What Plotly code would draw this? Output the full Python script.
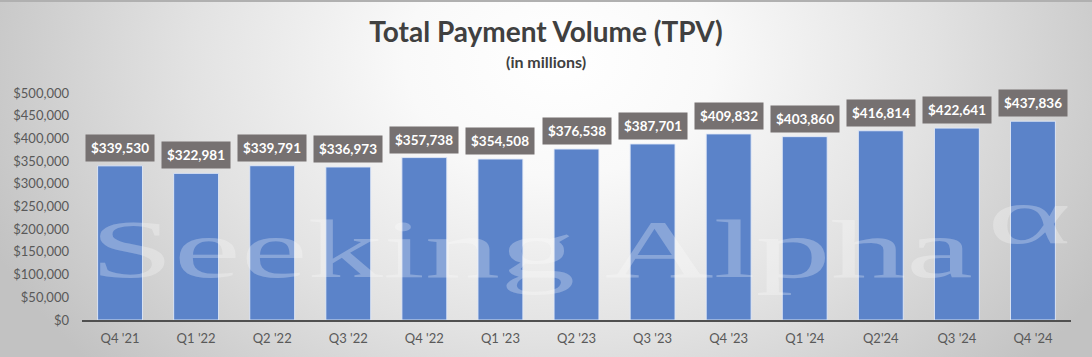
import base64
import plotly.graph_objects as go

# ---- data ----
quarters = ["Q4 '21", "Q1 '22", "Q2 '22", "Q3 '22", "Q4 '22", "Q1 '23", "Q2 '23",
            "Q3 '23", "Q4 '23", "Q1 '24", "Q2'24", "Q3 '24", "Q4 '24"]
tpv = [339530, 322981, 339791, 336973, 357738, 354508, 376538,
       387701, 409832, 403860, 416814, 422641, 437836]
y_ticks = list(range(0, 500001, 50000))
y_tick_labels = [f"${v:,}" for v in y_ticks]

title_text = "Total Payment Volume (TPV)"
subtitle_text = "(in millions)"
watermark_text = "Seeking Alpha"
watermark_symbol = "α"

# ---- layout geometry ----
W, H = 1092, 357
L, R, T, B = 82, 21, 93, 37
PW, PH = W - L - R, H - T - B
FONT = "Lato"

bg_svg = f'''<svg xmlns="http://www.w3.org/2000/svg" width="{W}" height="{H}" viewBox="0 0 {W} {H}" preserveAspectRatio="none">
<defs><radialGradient id="g" gradientUnits="userSpaceOnUse" cx="560" cy="60" r="620"
 gradientTransform="translate(560 60) scale(1 0.75) translate(-560 -60)">
<stop offset="0" stop-color="#ffffff"/><stop offset="0.25" stop-color="#f9f9f9"/>
<stop offset="0.6" stop-color="#e2e2e2"/><stop offset="1" stop-color="#c2c2c2"/></radialGradient></defs>
<rect x="0" y="0" width="{W}" height="{H}" fill="url(#g)"/>
<rect x="0" y="0" width="{W}" height="2" fill="#b0b0b0"/>
</svg>'''

wm_svg = f'''<svg xmlns="http://www.w3.org/2000/svg" width="{W}" height="{H}" viewBox="0 0 {W} {H}" preserveAspectRatio="none">
<text x="90" y="277" font-family="Liberation Serif" font-size="83" fill="#ffffff" fill-opacity="0.28"
 textLength="883" lengthAdjust="spacingAndGlyphs">{watermark_text}</text>
<text x="987" y="243" font-family="Liberation Serif" font-size="80" fill="#ffffff" fill-opacity="0.28"
 textLength="84" lengthAdjust="spacingAndGlyphs">{watermark_symbol}</text>
</svg>'''


def uri(svg):
    return "data:image/svg+xml;base64," + base64.b64encode(svg.encode("utf-8")).decode()


full = dict(xref="paper", yref="paper", x=-L / PW, y=1 + T / PH, sizex=W / PW, sizey=H / PH,
            xanchor="left", yanchor="top", sizing="stretch")

fig = go.Figure()
fig.add_trace(go.Bar(
    x=quarters, y=tpv,
    marker=dict(color="#5b83c9", line=dict(color="rgba(225,233,247,0.9)", width=1)),
    hoverinfo="skip",
))

for q, v in zip(quarters, tpv):
    fig.add_annotation(
        x=q, y=v, text=f"<b>${v:,}</b>", showarrow=False, yanchor="bottom", yshift=4,
        bgcolor="#767171", borderpad=5,
        font=dict(family=FONT, size=13.5, color="#ffffff"),
    )

fig.add_annotation(
    xref="paper", yref="paper", x=(W / 2 - L) / PW, y=1 + (T - 61) / PH,
    text=f"<b>{subtitle_text}</b>", showarrow=False, xanchor="center", yanchor="middle",
    font=dict(family=FONT, size=16, color="#404040"),
)

fig.update_layout(
    width=W, height=H,
    margin=dict(l=L, r=R, t=T, b=B, autoexpand=False),
    paper_bgcolor="#dcdcdc", plot_bgcolor="rgba(0,0,0,0)",
    title=dict(text=f"<b>{title_text}</b>", x=0.5, xref="container", xanchor="center",
               y=1 - 32 / H, yref="container", yanchor="middle", automargin=False,
               font=dict(family=FONT, size=28, color="#404040")),
    bargap=0.41,
    showlegend=False,
    images=[dict(source=uri(bg_svg), layer="below", **full),
            dict(source=uri(wm_svg), layer="above", **full)],
    xaxis=dict(showgrid=False, showline=True, linecolor="#505050", linewidth=1.5,
               ticks="", ticklabelstandoff=6, automargin=False,
               tickfont=dict(family=FONT, size=13, color="#595959")),
    yaxis=dict(range=[0, 500000], tickvals=y_ticks, ticktext=y_tick_labels,
               showgrid=False, zeroline=False, showline=False, ticks="", ticklabelstandoff=12,
               automargin=False,
               tickfont=dict(family=FONT, size=13, color="#595959")),
)

fig.write_html("out.html", config={"displayModeBar": False},
               post_script="document.body.style.margin='0';document.body.style.overflow='hidden';")
